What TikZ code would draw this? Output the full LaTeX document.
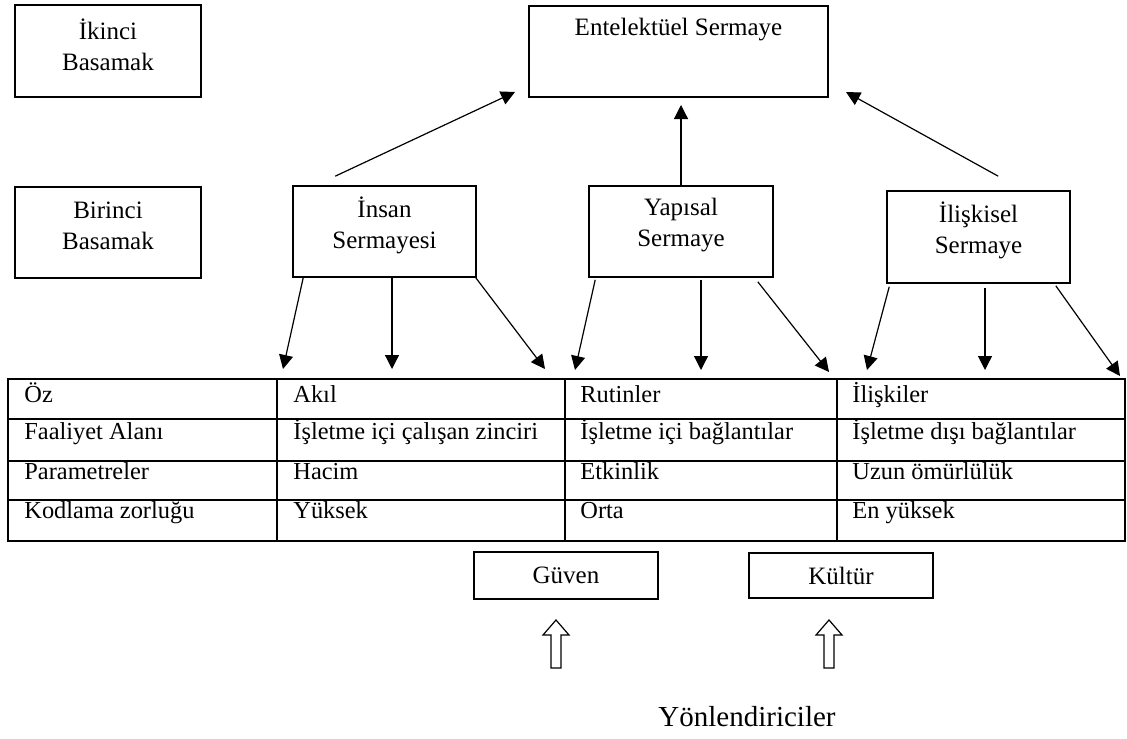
\documentclass[tikz,border=0pt]{standalone}
\usepackage{fontspec}
\setmainfont{Liberation Serif}
\usetikzlibrary{arrows.meta}

\tikzset{
  box/.style={draw, line width=0.8pt, inner sep=0pt, align=center,
    font=\fontsize{12.5}{15.5}\selectfont},
  txt/.style={align=center, inner sep=0pt, font=\fontsize{12.5}{15.5}\selectfont},
  cell/.style={anchor=base west, inner sep=0pt, font=\fontsize{12.2}{15}\selectfont},
  link/.style={-{Triangle[length=7pt,width=7pt]}, line width=0.6pt},
  rule/.style={line width=0.9pt}
}

\begin{document}
\begin{tikzpicture}[x=0.5pt,y=-0.5pt]
  \useasboundingbox (0,0) rectangle (1127,738);

  % levels
  \node[box, minimum width=93pt, minimum height=46pt] (ikinci) at (108,51) {};
  \node[txt] (ikinciT) at ([yshift=3.25pt]ikinci.center) {İkinci\\Basamak};
  \node[box, minimum width=93pt, minimum height=45.5pt] (birinci) at (108,232.5) {};
  \node[txt] (birinciT) at ([yshift=3.5pt]birinci.center) {Birinci\\Basamak};

  \node[box, minimum width=149.5pt, minimum height=45.5pt] (ent) at (678.5,51.5) {};
  \node[txt] (entT) at ([yshift=10.75pt]ent.center) {Entelektüel Sermaye};

  \node[box, minimum width=91.5pt, minimum height=45.5pt] (insan) at (384.5,231.5) {};
  \node[txt] (insanT) at ([yshift=3pt]insan.center) {İnsan\\Sermayesi};
  \node[box, minimum width=92pt, minimum height=45.5pt] (yapisal) at (681,231.5) {};
  \node[txt] (yapisalT) at ([yshift=3.25pt]yapisal.center) {Yapısal\\Sermaye};
  \node[box, minimum width=91.5pt, minimum height=46pt] (iliskisel) at (978.5,237) {};
  \node[txt] (iliskiselT) at ([yshift=3.5pt]iliskisel.center) {İlişkisel\\Sermaye};

  % arrows up
  \coordinate (e1) at (515,92);
  \coordinate (e2) at (681,105);
  \coordinate (e3) at (846,92);
  \draw[link] ([xshift=21.5pt,yshift=4.5pt]insan.north west) -- (e1);
  \draw[link] (yapisal.north) -- (e2);
  \draw[link] ([xshift=56pt,yshift=7pt]iliskisel.north west) -- (e3);

  % arrows down
  \coordinate (a1) at (283,369);
  \coordinate (a2) at (392,369);
  \coordinate (a3) at (545,369);
  \coordinate (b1) at (575,370);
  \coordinate (b2) at (701,370);
  \coordinate (b3) at (829,372);
  \coordinate (c1) at (867,370);
  \coordinate (c2) at (985,370);
  \coordinate (c3) at (1120,376);
  \draw[link] ([xshift=5.5pt]insan.south west) -- (a1);
  \draw[link] ([xshift=3.75pt]insan.south) -- (a2);
  \draw[link] ([xshift=-0.5pt]insan.south east) -- (a3);
  \draw[link] ([xshift=3.5pt,yshift=-1pt]yapisal.south west) -- (b1);
  \draw[link] ([xshift=10pt,yshift=-1pt]yapisal.south) -- (b2);
  \draw[link] ([xshift=-8pt,yshift=-2pt]yapisal.south east) -- (b3);
  \draw[link] ([xshift=1.5pt,yshift=-1.5pt]iliskisel.south west) -- (c1);
  \draw[link] ([xshift=3.25pt,yshift=-2pt]iliskisel.south) -- (c2);
  \draw[link] ([xshift=-7.5pt,yshift=-1pt]iliskisel.south east) -- (c3);

  % table
  \draw[rule] (8,379) rectangle (1125,541);
  \foreach \y in {419,461,500}
    \draw[rule] (8,\y) -- (1125,\y);
  \foreach \x in {277,565,837}
    \draw[rule] (\x,379) -- (\x,541);
  \foreach \yy/\a/\b/\c/\d [count=\r] in {
      402/Öz/Akıl/Rutinler/İlişkiler,
      439/Faaliyet Alanı/İşletme içi çalışan zinciri/İşletme içi bağlantılar/İşletme dışı bağlantılar,
      479/Parametreler/Hacim/Etkinlik/Uzun ömürlülük,
      518/Kodlama zorluğu/Yüksek/Orta/En yüksek} {
    \node[cell] (t\r-1) at (24,\yy) {\a};
    \node[cell] (t\r-2) at (293,\yy) {\b};
    \node[cell] (t\r-3) at (580,\yy) {\c};
    \node[cell] (t\r-4) at (852,\yy) {\d};
  }

  % drivers
  \node[box, minimum width=92pt, minimum height=23.5pt] (guven) at (566,575.5) {Güven};
  \node[box, minimum width=92pt, minimum height=22.5pt] (kultur) at (841,575.5) {Kültür};
  \foreach \x in {556,829}
    \draw[line width=0.6pt] (\x-5,668) -- (\x-5,635) -- (\x-13,635) -- (\x,620)
      -- (\x+13,635) -- (\x+5,635) -- (\x+5,668) -- cycle;
  \node[font=\fontsize{14.5}{17}\selectfont] (yon) at (747,717) {Yönlendiriciler};
\end{tikzpicture}
\end{document}
